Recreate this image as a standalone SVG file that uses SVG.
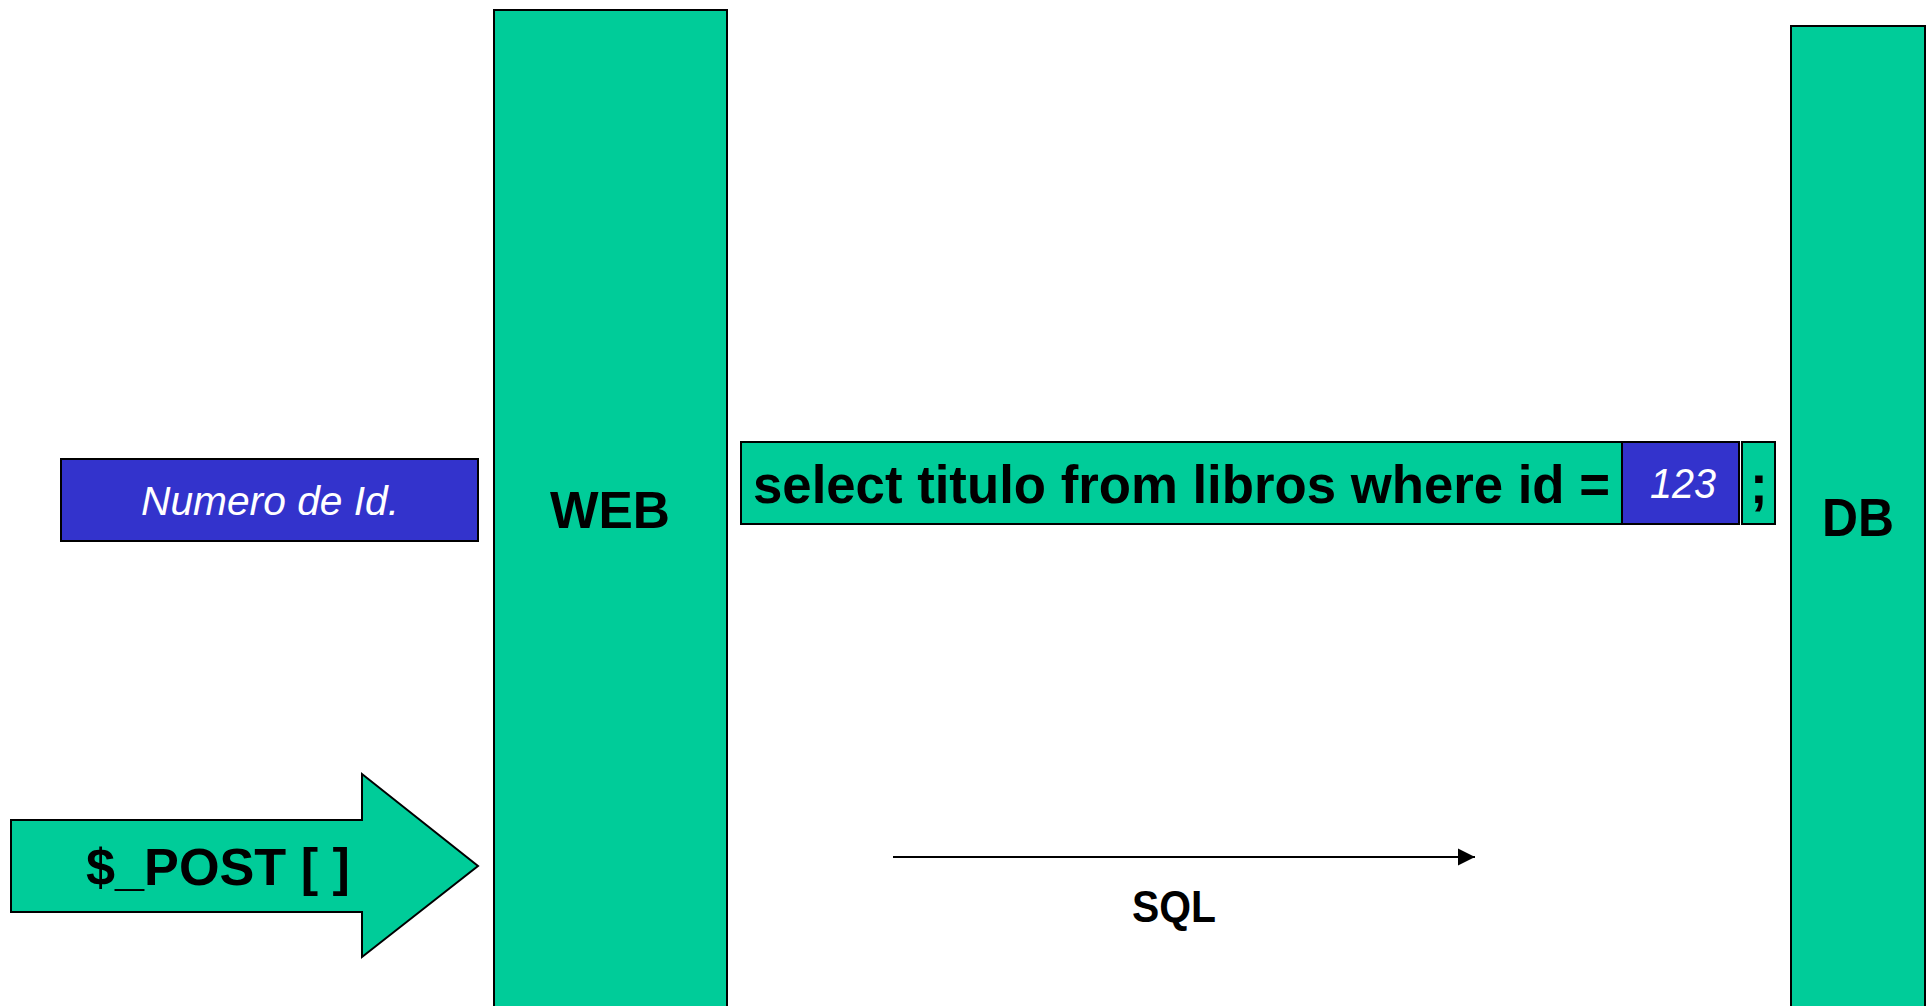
<svg xmlns="http://www.w3.org/2000/svg" width="1928" height="1006" viewBox="0 0 1928 1006">
<style>
.g{fill:#00CC99;stroke:#000;stroke-width:2}
.b{fill:#3333CC;stroke:#000;stroke-width:2}
.t{font-family:"Liberation Sans",Arial,sans-serif;font-weight:bold;fill:#000}
.w{font-family:"Liberation Sans",Arial,sans-serif;font-style:italic;fill:#fff}
</style>
<defs>
<marker id="ah" viewBox="0 0 10 10" refX="10" refY="5" markerWidth="17" markerHeight="18" markerUnits="userSpaceOnUse" orient="auto">
<path d="M0,0 L10,5 L0,10 z" fill="#000"/>
</marker>
</defs>
<rect width="1928" height="1006" fill="#fff"/>
<g id="web">
<rect class="g" x="494" y="10" width="233" height="1010"/>
<text class="t" x="550" y="528" font-size="52" textLength="120" lengthAdjust="spacingAndGlyphs">WEB</text>
</g>
<g id="db">
<rect class="g" x="1791" y="26" width="134" height="1000"/>
<text class="t" x="1822" y="536" font-size="53" textLength="72" lengthAdjust="spacingAndGlyphs">DB</text>
</g>
<g id="numero">
<rect class="b" x="61" y="459" width="417" height="82"/>
<text class="w" x="141" y="515" font-size="41" textLength="258" lengthAdjust="spacingAndGlyphs">Numero de Id.</text>
</g>
<g id="sql-query">
<rect class="g" x="741" y="442" width="881" height="82"/>
<text class="t" x="753" y="503" font-size="53" textLength="857" lengthAdjust="spacingAndGlyphs">select titulo from libros where id =</text>
<rect class="b" x="1622" y="442" width="117" height="82"/>
<text class="w" x="1650" y="498" font-size="42" textLength="66" lengthAdjust="spacingAndGlyphs">123</text>
<rect class="g" x="1742" y="442" width="33" height="82"/>
<text class="t" x="1750" y="503" font-size="53">;</text>
</g>
<g id="post">
<polygon class="g" points="11,820 362,820 362,774 478,866 362,957 362,912 11,912"/>
<text class="t" x="86" y="885" font-size="52" textLength="264" lengthAdjust="spacingAndGlyphs">$_POST [ ]</text>
</g>
<g id="connectors">
<line x1="893" y1="857" x2="1475" y2="857" stroke="#000" stroke-width="2" marker-end="url(#ah)"/>
<text class="t" x="1132" y="922" font-size="44" textLength="84" lengthAdjust="spacingAndGlyphs">SQL</text>
</g>
</svg>
